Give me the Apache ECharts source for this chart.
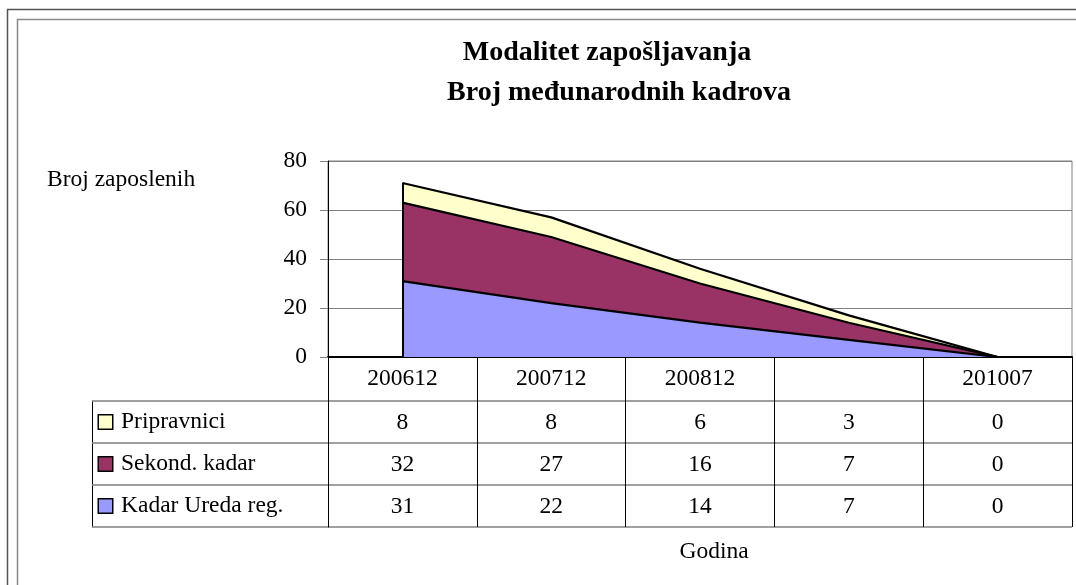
<!DOCTYPE html>
<html><head><meta charset="utf-8">
<script src="https://cdn.jsdelivr.net/npm/echarts@6/dist/echarts.min.js"></script>
<style>html,body{margin:0;padding:0;background:#fff}#c{width:1076px;height:585px}</style>
</head><body><div id="c"></div>
<script>
const categories = ['200612', '200712', '200812', '', '201007'];
const kadarUreda = [31, 22, 14, 7, 0];
const sekondKadar = [32, 27, 16, 7, 0];
const pripravnici = [8, 8, 6, 3, 0];
const seriesNames = ['Kadar Ureda reg.', 'Sekond. kadar', 'Pripravnici'];
const seriesColors = ['#9999FF', '#993366', '#FFFFCC'];
const yMin = 0, yMax = 80, yStep = 20;
const titleLines = ['Modalitet zapošljavanja', 'Broj međunarodnih kadrova'];
const yName = 'Broj zaposlenih';
const xName = 'Godina';

const FF = '"Liberation Serif", "Times New Roman", serif';
const FS = 23.5;
const seriesValues = [kadarUreda, sekondKadar, pripravnici];
const firstTotal = seriesValues.reduce((s, a) => s + a[0], 0);

const tableData = [];
seriesValues.forEach((arr, r) => arr.forEach((v, i) => tableData.push([i, r, v])));

const rich = { t: { fontSize: FS, fontFamily: FF, color: '#000', padding: [0, 0, 0, 9] } };
seriesColors.forEach((c, i) => {
  rich['s' + i] = { width: 13, height: 13, backgroundColor: c, borderColor: '#000', borderWidth: 1.5, verticalAlign: 'middle' };
});

const series = [];
seriesValues.forEach((arr, i) => {
  series.push({
    type: 'line', name: seriesNames[i], stack: 'area', data: arr,
    xAxisIndex: 0, yAxisIndex: 0, symbol: 'none', silent: true,
    lineStyle: { width: 0, color: seriesColors[i] },
    areaStyle: { color: seriesColors[i], opacity: 1 },
    itemStyle: { color: seriesColors[i] }, z: 2
  });
});
seriesValues.forEach((arr, i) => {
  const s = {
    type: 'line', name: seriesNames[i] + ' line', stack: 'edge', data: arr,
    xAxisIndex: 0, yAxisIndex: 0, symbol: 'none', silent: true,
    lineStyle: { width: 2.2, color: '#000' }, z: 3
  };
  if (i === seriesValues.length - 1) {
    s.markLine = {
      silent: true, symbol: ['none', 'none'], label: { show: false },
      lineStyle: { color: '#000', width: 2, type: 'solid' },
      data: [[{ coord: [0, 0] }, { coord: [0, firstTotal] }]]
    };
  }
  series.push(s);
});
series.push({
  type: 'custom', xAxisIndex: 1, yAxisIndex: 1, data: tableData, silent: true, z: 5,
  renderItem: (params, api) => {
    const p = api.coord([api.value(0), api.value(1)]);
    return {
      type: 'text', x: p[0], y: p[1] + 1,
      style: { text: String(api.value(2)), fill: '#000', font: FS + 'px ' + FF, align: 'center', verticalAlign: 'middle' }
    };
  }
});

const chart = echarts.init(document.getElementById('c'), null, { renderer: 'canvas' });
chart.setOption({
  animation: false,
  backgroundColor: '#fff',
  grid: [
    { left: 328, top: 161, width: 744, height: 196, show: true, borderColor: '#808080', borderWidth: 1, backgroundColor: 'transparent' },
    { left: 328, top: 401, width: 744, height: 126 }
  ],
  xAxis: [
    {
      type: 'category', gridIndex: 0, data: categories, boundaryGap: true,
      axisLine: { show: true, lineStyle: { color: '#000', width: 2 } },
      axisTick: { show: true, interval: 0, length: 170, lineStyle: { color: '#000', width: 1 } },
      axisLabel: { interval: 0, margin: 22, verticalAlign: 'middle', fontSize: FS, fontFamily: FF, color: '#000' },
      splitLine: { show: false }
    },
    { type: 'category', gridIndex: 1, data: categories, boundaryGap: true, show: false }
  ],
  yAxis: [
    {
      type: 'value', gridIndex: 0, min: yMin, max: yMax, interval: yStep,
      axisLine: { show: true, lineStyle: { color: '#000', width: 1 } },
      axisTick: { show: true, length: 8, lineStyle: { color: '#808080' } },
      axisLabel: { margin: 21, fontSize: FS, fontFamily: FF, color: '#000' },
      splitLine: { show: true, lineStyle: { color: '#808080', width: 1 } }
    },
    {
      type: 'category', gridIndex: 1, data: seriesNames, boundaryGap: true,
      axisLine: { show: true, lineStyle: { color: '#000', width: 1 } },
      axisTick: { show: true, interval: 0, length: 236, lineStyle: { color: '#808080', width: 1.5 } },
      splitLine: { show: true, interval: 0, lineStyle: { color: '#808080', width: 1.5 } },
      axisLabel: {
        interval: 0, align: 'left', margin: 229,
        formatter: (v, i) => '{s' + i + '|}{t|' + v + '}', rich: rich
      }
    },
    {
      type: 'category', gridIndex: 1, data: seriesNames, position: 'left', offset: 236,
      axisLine: { show: true, lineStyle: { color: '#000', width: 1 } },
      axisTick: { show: false }, axisLabel: { show: false }, splitLine: { show: false }
    }
  ],
  graphic: [
    { type: 'rect', silent: true, shape: { x: 7.5, y: 9.5, width: 1300, height: 1000 }, style: { fill: 'none', stroke: '#555', lineWidth: 1.5 } },
    { type: 'rect', silent: true, shape: { x: 17.5, y: 19.5, width: 1300, height: 1000 }, style: { fill: 'none', stroke: '#888', lineWidth: 1.5 } },
    { type: 'text', silent: true, x: 607, y: 53, style: { text: titleLines[0], font: 'bold 28px ' + FF, fill: '#000', align: 'center', verticalAlign: 'middle' } },
    { type: 'text', silent: true, x: 619, y: 93, style: { text: titleLines[1], font: 'bold 28px ' + FF, fill: '#000', align: 'center', verticalAlign: 'middle' } },
    { type: 'text', silent: true, x: 47, y: 180, style: { text: yName, font: FS + 'px ' + FF, fill: '#000', align: 'left', verticalAlign: 'middle' } },
    { type: 'text', silent: true, x: 714, y: 552, style: { text: xName, font: FS + 'px ' + FF, fill: '#000', align: 'center', verticalAlign: 'middle' } }
  ],
  series: series
});
</script>
</body></html>
